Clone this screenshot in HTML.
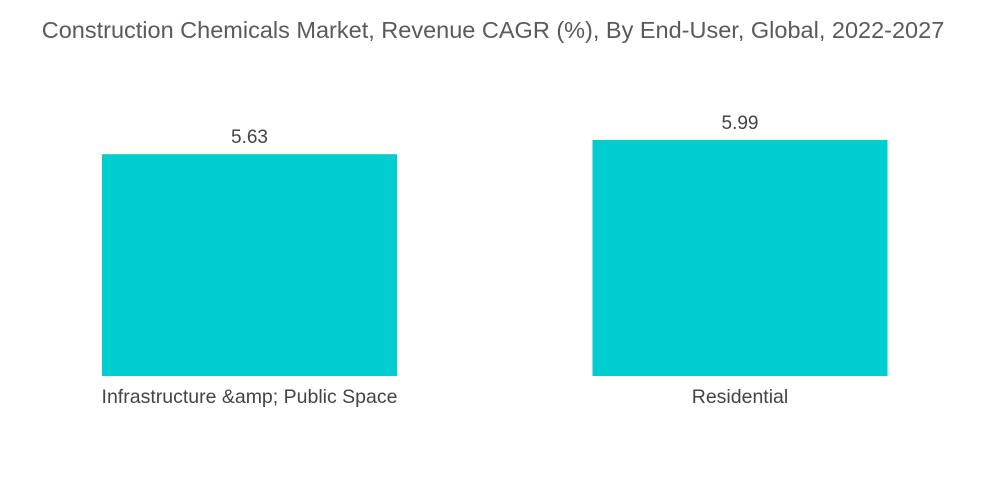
<!DOCTYPE html>
<html><head><meta charset="utf-8"><style>
html,body{margin:0;padding:0;background:#fff;width:1000px;height:504px;overflow:hidden;font-family:"Liberation Sans",sans-serif;}
</style></head><body>
<svg width="1000" height="504">
<text x="493" y="38" text-anchor="middle" font-size="23.5" fill="#5a5a5a">Construction Chemicals Market, Revenue CAGR (%), By End-User, Global, 2022-2027</text>
<g id="bars"></g>
</svg>
<script>
const categories = ["Infrastructure &amp; Public Space", "Residential"];
const values = [5.63, 5.99];
const valueLabels = ["5.63", "5.99"];
const baseY = 376, pxPerUnit = 39.4;
const centers = [249.5, 740];
const barW = 295;
function yScale(v){ return baseY - v * pxPerUnit; }
const g = document.getElementById('bars');
const ns = 'http://www.w3.org/2000/svg';
categories.forEach((c, i) => {
  const r = document.createElementNS(ns, 'rect');
  r.setAttribute('x', centers[i] - barW / 2);
  r.setAttribute('y', yScale(values[i]));
  r.setAttribute('width', barW);
  r.setAttribute('height', baseY - yScale(values[i]));
  r.setAttribute('fill', '#00cdd0');
  
  
  g.appendChild(r);
  const t = document.createElementNS(ns, 'text');
  t.setAttribute('x', centers[i]);
  t.setAttribute('y', yScale(values[i]) - 11);
  t.setAttribute('text-anchor', 'middle');
  t.setAttribute('font-size', '19');
  t.setAttribute('fill', '#444');
  t.textContent = valueLabels[i];
  
  
  g.appendChild(t);
  const l = document.createElementNS(ns, 'text');
  l.setAttribute('x', centers[i]);
  l.setAttribute('y', 403);
  l.setAttribute('text-anchor', 'middle');
  l.setAttribute('font-size', '19.5');
  l.setAttribute('fill', '#444');
  l.textContent = c;
  
  
  g.appendChild(l);
});
</script>
</body></html>
